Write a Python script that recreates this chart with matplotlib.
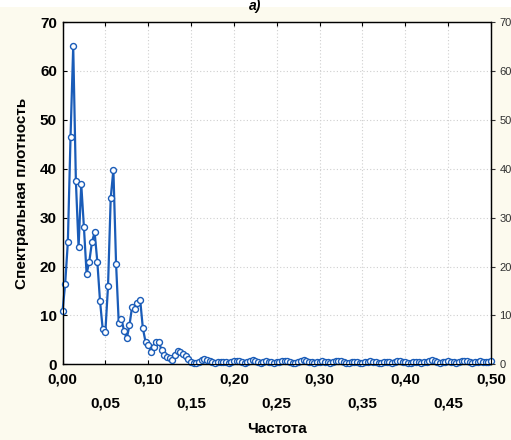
import numpy as np
import matplotlib
matplotlib.use("Agg")
import matplotlib.pyplot as plt
from matplotlib.patches import Rectangle

# ---- data ----
freq_step = 0.003125
density = [
    10.8, 16.5, 25.0, 46.5, 65.0, 37.4, 24.0, 36.8, 28.0, 18.5,
    21.0, 25.0, 27.0, 21.0, 13.0, 7.3, 6.6, 16.0, 34.0, 39.8,
    20.6, 8.5, 9.3, 6.8, 5.3, 8.0, 11.8, 11.4, 12.5, 13.2,
    7.4, 4.6, 4.0, 2.6, 3.6, 4.6, 4.6, 2.9, 1.9, 1.4,
    1.2, 0.9, 1.9, 2.8, 2.6, 2.1, 1.6, 1.0, 0.5, 0.3,
    0.2, 0.4, 0.8, 1.0, 0.9, 0.6, 0.4, 0.3, 0.4, 0.5,
    0.5, 0.4, 0.3, 0.4, 0.6, 0.7, 0.6, 0.4, 0.3, 0.5,
    0.7, 0.8, 0.6, 0.4, 0.3, 0.4, 0.6, 0.5, 0.4, 0.3,
    0.4, 0.5, 0.6, 0.7, 0.6, 0.4, 0.3, 0.3, 0.4, 0.6,
    0.8, 0.7, 0.5, 0.4, 0.3, 0.4, 0.5, 0.6, 0.5, 0.4,
    0.3, 0.4, 0.6, 0.7, 0.6, 0.4, 0.3, 0.3, 0.4, 0.5,
    0.4, 0.3, 0.3, 0.4, 0.5, 0.6, 0.5, 0.4, 0.3, 0.3,
    0.4, 0.5, 0.4, 0.3, 0.4, 0.6, 0.7, 0.5, 0.4, 0.3,
    0.3, 0.4, 0.5, 0.4, 0.3, 0.4, 0.5, 0.7, 0.8, 0.6,
    0.4, 0.3, 0.4, 0.5, 0.6, 0.5, 0.4, 0.3, 0.4, 0.6,
    0.7, 0.6, 0.4, 0.3, 0.4, 0.5, 0.6, 0.5, 0.4, 0.5,
    0.6,
]
freq = np.arange(len(density)) * freq_step

xticks = [0.00, 0.05, 0.10, 0.15, 0.20, 0.25, 0.30, 0.35, 0.40, 0.45, 0.50]
xticklabels = ["0,00", "\n0,05", "0,10", "\n0,15", "0,20", "\n0,25",
               "0,30", "\n0,35", "0,40", "\n0,45", "0,50"]
yticks = [0, 10, 20, 30, 40, 50, 60, 70]
xlabel = "Частота"
ylabel = "Спектральная плотность"
title = "а)"

plt.rcParams['font.family'] = ['Liberation Sans', 'DejaVu Sans']

W, H = 511, 440
fig = plt.figure(figsize=(W / 100, H / 100), dpi=100)
bg = "#fcfaee"
fig.patch.set_facecolor(bg)
fig.patches.append(Rectangle((0, 1 - 7 / H), 1, 7 / H, transform=fig.transFigure,
                             facecolor="white", edgecolor="none", zorder=0))

left, right, bottom, top = 62.5, 491.0, 364.3, 22.0
ax = fig.add_axes([left / W, 1 - bottom / H, (right - left) / W, (bottom - top) / H])
ax.set_facecolor("white")

line_color = "#1a5cb8"
ax.plot(freq, density, color=line_color, lw=1.6, marker="o", ms=4.3,
        mfc="white", mec=line_color, mew=1.0, zorder=3, clip_on=False)

ax.set_xlim(0, 0.5)
ax.set_ylim(0, 70)
ax.set_xticks(xticks)
ax.set_xticklabels(xticklabels, fontsize=11, fontweight="bold", linespacing=1.9)
ax.set_yticks(yticks)
ax.set_yticklabels([str(v) for v in yticks], fontsize=11, fontweight="bold")
ax.tick_params(axis="x", direction="in", length=3, pad=6, top=True)
ax.tick_params(axis="y", direction="in", length=3, pad=4)
ax.grid(True, color="#cfcfcf", linestyle=(0, (1, 2)), lw=0.8)
for s in ax.spines.values():
    s.set_color("#202020")
    s.set_linewidth(1.0)

ax.set_xlabel(xlabel, fontsize=11, fontweight="bold", labelpad=8)
ax.set_ylabel(ylabel, fontsize=11, fontweight="bold", labelpad=8)

ax2 = ax.twinx()
ax2.set_ylim(0, 70)
ax2.set_yticks(yticks)
ax2.set_yticklabels([str(v) for v in yticks], fontsize=8, color="#303030")
ax2.tick_params(axis="y", direction="out", length=3, pad=3, colors="#303030")

fig.text(255 / W, 1 - 6 / H, title, fontsize=10, fontweight="bold", style="italic",
         ha="center", va="center")

fig.savefig("out.png", dpi=100, facecolor=fig.get_facecolor())
